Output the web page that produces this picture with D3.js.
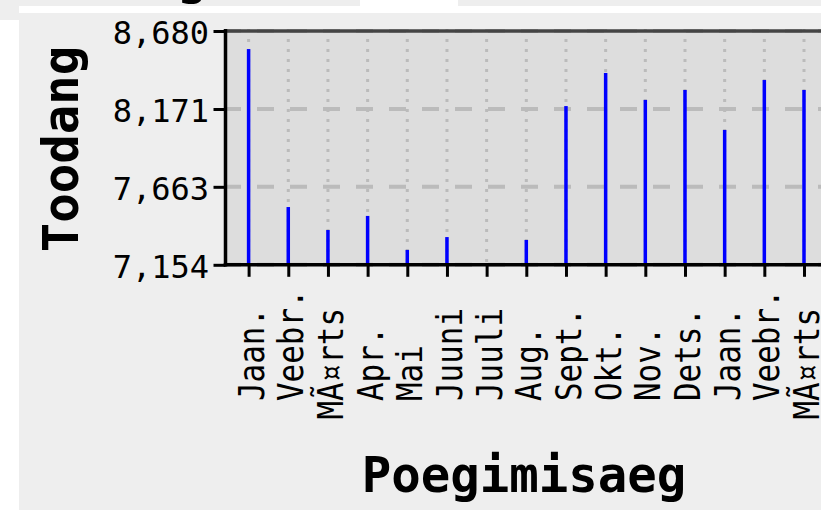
<!DOCTYPE html>
<html>
<head>
<meta charset="utf-8">
<script src="https://cdn.jsdelivr.net/npm/d3@7"></script>
<style>
  html, body { margin: 0; padding: 0; background: #eeeeee; }
  svg { display: block; }
</style>
</head>
<body>
<svg id="chart" width="821" height="510"></svg>
<script>
// Monthly output (Toodang) by calving month (Poegimisaeg)
const months = ["Jaan.", "Veebr.", "MÃ¤rts", "Apr.", "Mai", "Juuni", "Juuli", "Aug.",
                "Sept.", "Okt.", "Nov.", "Dets.", "Jaan.", "Veebr.", "MÃ¤rts"];
const output = [8562, 7531, 7381, 7473, 7251, 7335, 7154, 7316,
                8190, 8406, 8230, 8295, 8034, 8360, 8295];
const yTicks = [7154, 7663, 8171, 8680];
const yDomain = [7154, 8680];
const yTitle = "Toodang";
const xTitle = "Poegimisaeg";

const W = 821, H = 510;
const plot = { left: 225.5, right: 823, top: 31, bottom: 264.8 };
const FONT = "'DejaVu Sans Mono', monospace";

const svg = d3.select("#chart");

// page background and the light frame strips
svg.append("rect").attr("width", W).attr("height", H).attr("fill", "#eeeeee");
svg.append("text")
  .attr("x", 177).attr("y", -6.5)
  .attr("font-family", FONT).attr("font-weight", "bold").attr("font-size", 49)
  .attr("fill", "#000").text("g");
svg.append("rect").attr("x", 0).attr("y", 20).attr("width", 19).attr("height", H - 20).attr("fill", "#ffffff");
svg.append("rect").attr("x", 19).attr("y", 6).attr("width", W - 19).attr("height", 7).attr("fill", "#ffffff");
svg.append("rect").attr("x", 360).attr("y", 0).attr("width", 98).attr("height", 6).attr("fill", "#ffffff");

// scales
const x = d3.scalePoint().domain(d3.range(months.length)).range([248.6, 804]);
const y = d3.scaleLinear().domain(yDomain).range([plot.bottom, plot.top]);

// plot panel
svg.append("rect")
  .attr("x", plot.left).attr("y", plot.top)
  .attr("width", plot.right - plot.left).attr("height", plot.bottom - plot.top)
  .attr("fill", "#dddddd");

// horizontal dashed grid
svg.append("g").selectAll("line").data(yTicks).join("line")
  .attr("x1", 224).attr("x2", plot.right)
  .attr("y1", d => y(d)).attr("y2", d => y(d))
  .attr("stroke", "#bbbbbb").attr("stroke-width", 4)
  .attr("stroke-dasharray", "17,16");

// vertical dotted grid
svg.append("g").selectAll("line").data(x.domain()).join("line")
  .attr("x1", d => x(d)).attr("x2", d => x(d))
  .attr("y1", 29).attr("y2", plot.bottom)
  .attr("stroke", "#bbbbbb").attr("stroke-width", 3)
  .attr("stroke-dasharray", "3,7");

// bars
svg.append("g").selectAll("rect").data(output).join("rect")
  .attr("x", (d, i) => x(i) - 1.75)
  .attr("width", 3.5)
  .attr("y", d => y(d))
  .attr("height", d => y(yDomain[0]) - y(d))
  .attr("fill", "#0000ff");

// top frame line
svg.append("line")
  .attr("x1", plot.left).attr("x2", plot.right)
  .attr("y1", plot.top).attr("y2", plot.top)
  .attr("stroke", "#444444").attr("stroke-width", 3.5);

// y axis
const yAxis = svg.append("g")
  .attr("transform", `translate(${plot.left},0)`)
  .call(d3.axisLeft(y).tickValues(yTicks).tickSize(12).tickSizeOuter(0)
    .tickPadding(4.5).tickFormat(d => d3.format(",")(Math.round(d))));
yAxis.select(".domain").remove();
yAxis.selectAll(".tick line").attr("stroke", "#000").attr("stroke-width", 3);
yAxis.selectAll(".tick text")
  .attr("font-family", FONT).attr("font-size", 32).attr("fill", "#000")
  .attr("dy", "0.39em");

// x axis
const cell = 18.6;
// labels carrying re-encoded characters start one cell lower
const extraCells = s => (s.match(/[\u0080-\u00ff]/g) || []).length / 2;
const xAxis = svg.append("g")
  .attr("transform", `translate(0,${plot.bottom})`)
  .call(d3.axisBottom(x).tickSize(12).tickSizeOuter(0).tickFormat(i => months[i]));
xAxis.select(".domain").remove();
xAxis.selectAll(".tick line").attr("stroke", "#000").attr("stroke-width", 3);
xAxis.selectAll(".tick text")
  .attr("font-family", FONT).attr("font-size", 35).attr("fill", "#000")
  .attr("text-anchor", "start")
  .attr("x", 0).attr("y", 0).attr("dy", 0)
  .attr("textLength", function () { return this.textContent.length * cell; })
  .attr("lengthAdjust", "spacingAndGlyphs")
  .attr("transform", function () {
    const shift = 401 - plot.bottom + extraCells(this.textContent) * cell;
    return `translate(14.5,${shift}) rotate(-90)`;
  });

// axis lines
svg.append("line")
  .attr("x1", plot.left).attr("x2", plot.left)
  .attr("y1", plot.top - 2).attr("y2", plot.bottom + 1.75)
  .attr("stroke", "#000").attr("stroke-width", 3.5);
svg.append("line")
  .attr("x1", plot.left - 1.75).attr("x2", plot.right)
  .attr("y1", plot.bottom).attr("y2", plot.bottom)
  .attr("stroke", "#000").attr("stroke-width", 3.5);

// axis titles
svg.append("text")
  .attr("transform", "translate(78,149) rotate(-90)")
  .attr("text-anchor", "middle")
  .attr("font-family", FONT).attr("font-weight", "bold").attr("font-size", 49)
  .attr("fill", "#000").text(yTitle);
svg.append("text")
  .attr("x", 524).attr("y", 492)
  .attr("text-anchor", "middle")
  .attr("font-family", FONT).attr("font-weight", "bold").attr("font-size", 49)
  .attr("fill", "#000").text(xTitle);
</script>
</body>
</html>
